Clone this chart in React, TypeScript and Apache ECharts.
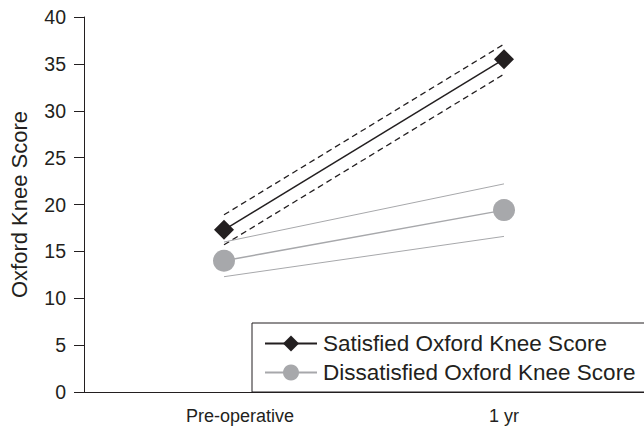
import React, { useEffect, useRef } from "react";
import * as echarts from "echarts";

const categories = ["Pre-operative", "1 yr"];
const satisfied = [17.3, 35.5];
const satisfiedUpper = [18.9, 37.1];
const satisfiedLower = [15.7, 33.9];
const dissatisfied = [14.0, 19.4];
const dissatisfiedUpper = [16.0, 22.2];
const dissatisfiedLower = [12.3, 16.6];
const yTicks = { min: 0, max: 40, interval: 5 };

const DARK = "#231f20";
const GREY = "#a7a8ab";
const FONT = "Liberation Sans, Arial, sans-serif";

export default function App() {
  const ref = useRef<HTMLDivElement>(null);
  useEffect(() => {
    const chart = echarts.init(ref.current!, null, { renderer: "svg" });
    chart.setOption({
      animation: false,
      textStyle: { fontFamily: FONT },
      grid: { left: 81, right: -6, top: 17, bottom: 40 },
      legend: {
        data: ["Satisfied Oxford Knee Score", "Dissatisfied Oxford Knee Score"],
        orient: "vertical",
        left: 252,
        top: 323,
        borderColor: DARK,
        borderWidth: 1,
        padding: [9, 12, 8, 12],
        itemGap: 6,
        itemWidth: 52,
        itemHeight: 20,
        textStyle: {
          fontSize: 22.5,
          lineHeight: 21,
          color: DARK,
          fontFamily: FONT,
          padding: [0, 0, 0, 1],
        },
      },
      xAxis: {
        type: "category",
        data: [
          { value: categories[0], textStyle: { padding: [0, 0, 0, 32] } },
          categories[1],
        ],
        axisLine: { lineStyle: { color: DARK, width: 1 } },
        axisTick: { show: false },
        axisLabel: { color: DARK, fontSize: 18, margin: 15, fontFamily: FONT },
      },
      yAxis: {
        type: "value",
        min: yTicks.min,
        max: yTicks.max,
        interval: yTicks.interval,
        name: "Oxford Knee Score",
        nameLocation: "middle",
        nameGap: 54,
        nameTextStyle: { color: DARK, fontSize: 22, fontFamily: FONT },
        axisLine: { show: true, lineStyle: { color: DARK, width: 1 } },
        axisTick: { show: true, length: 10, lineStyle: { color: DARK } },
        axisLabel: { color: DARK, fontSize: 19.5, margin: 18, fontFamily: FONT },
        splitLine: { show: false },
      },
      series: [
        {
          name: "Satisfied upper",
          type: "line",
          data: satisfiedUpper,
          symbol: "none",
          lineStyle: { color: DARK, width: 1.3, type: [6, 4] },
          z: 2,
        },
        {
          name: "Satisfied lower",
          type: "line",
          data: satisfiedLower,
          symbol: "none",
          lineStyle: { color: DARK, width: 1.3, type: [6, 4] },
          z: 2,
        },
        {
          name: "Dissatisfied upper",
          type: "line",
          data: dissatisfiedUpper,
          symbol: "none",
          lineStyle: { color: GREY, width: 1 },
          z: 2,
        },
        {
          name: "Dissatisfied lower",
          type: "line",
          data: dissatisfiedLower,
          symbol: "none",
          lineStyle: { color: GREY, width: 1 },
          z: 2,
        },
        {
          name: "Dissatisfied Oxford Knee Score",
          type: "line",
          data: dissatisfied,
          symbol: "circle",
          symbolSize: 22,
          itemStyle: { color: GREY },
          lineStyle: { color: GREY, width: 1.5 },
          z: 3,
        },
        {
          name: "Satisfied Oxford Knee Score",
          type: "line",
          data: satisfied,
          symbol: "diamond",
          symbolSize: [20, 20],
          itemStyle: { color: DARK },
          lineStyle: { color: DARK, width: 1.5 },
          z: 4,
        },
      ],
    });
    return () => chart.dispose();
  }, []);
  return <div ref={ref} style={{ width: 644, height: 432, position: "absolute", left: 0, top: 0, background: "#fff" }} />;
}
